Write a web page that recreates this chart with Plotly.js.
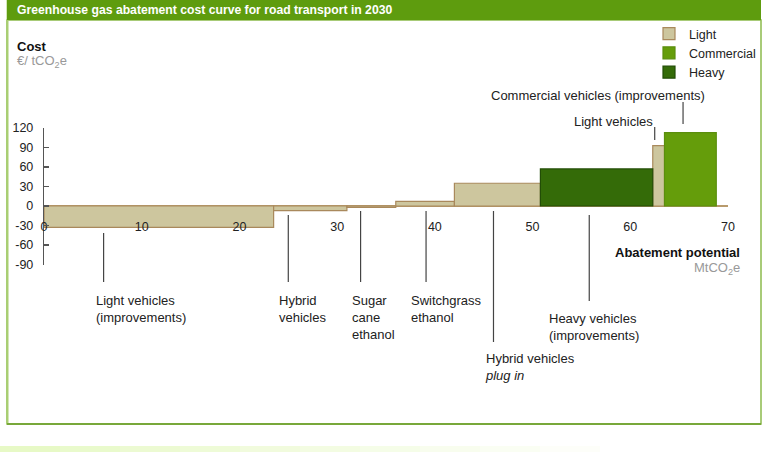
<!DOCTYPE html>
<html>
<head>
<meta charset="utf-8">
<script src="https://cdn.plot.ly/plotly-3.0.1.min.js"></script>
<style>html,body{margin:0;padding:0;background:#fff;}#chart{width:765px;height:452px;}</style>
</head>
<body>
<div id="chart"></div>
<script>
// ---- Data ----
const measures = ['Light vehicles (improvements)', 'Hybrid vehicles', 'Sugar cane ethanol', 'Switchgrass ethanol', 'Hybrid vehicles plug in', 'Heavy vehicles (improvements)', 'Light vehicles', 'Commercial vehicles (improvements)'];
const potential = [23.5, 7.5, 5, 6, 8.8, 11.5, 1.2, 5.3];   // MtCO2e
const cost = [-33, -7, -2, 7, 35, 57, 93, 113];               // EUR / tCO2e
const sector = ['Light', 'Light', 'Light', 'Light', 'Light', 'Heavy', 'Light', 'Commercial'];
const sectors = ['Light', 'Commercial', 'Heavy'];
const xTicks = [0, 10, 20, 30, 40, 50, 60, 70];
const yTicks = [-90, -60, -30, 0, 30, 60, 90, 120];

// ---- Styles ----
const W = 765, H = 452;
const px = v => v / W;
const py = v => 1 - v / H;
const FONT = 'Liberation Sans, Arial, sans-serif';
const fillColors = {Light: '#cdc69e', Commercial: '#659d0b', Heavy: '#346b08'};
const lineColors = {Light: '#a9895c', Commercial: '#5b8e0e', Heavy: '#224d06'};

// cumulative positions of the blocks
const starts = [];
let acc = 0;
potential.forEach(w => { starts.push(acc); acc += w; });

const traces = sectors.map(s => {
  const idx = sector.map((v, i) => v === s ? i : -1).filter(i => i >= 0);
  return {
    type: 'bar',
    name: s,
    x: idx.map(i => starts[i] + potential[i] / 2),
    width: idx.map(i => potential[i]),
    y: idx.map(i => cost[i]),
    text: idx.map(i => measures[i]),
    hoverinfo: 'text+y',
    textposition: 'none',
    marker: {color: fillColors[s], line: {color: lineColors[s], width: 1.2}}
  };
});

// ---- Label layout (leader x in data units, pixel y of line, text position) ----
const labels = [
  {text: 'Light vehicles<br>(improvements)', lx: 6.1, ly0: 233, ly1: 282, tx: 94, ty: 291},
  {text: 'Hybrid<br>vehicles', lx: 25.0, ly0: 215, ly1: 282, tx: 277, ty: 291},
  {text: 'Sugar<br>cane<br>ethanol', lx: 32.4, ly0: 211, ly1: 282, tx: 350, ty: 291},
  {text: 'Switchgrass<br>ethanol', lx: 39.1, ly0: 211, ly1: 282, tx: 409, ty: 291},
  {text: 'Hybrid vehicles<br><i>plug in</i>', lx: 46.0, ly0: 211, ly1: 342, tx: 483, ty: 349},
  {text: 'Heavy vehicles<br>(improvements)', lx: 55.8, ly0: 215, ly1: 301, tx: 547, ty: 309},
  {text: 'Light vehicles', lx: 62.5, ly0: 127, ly1: 140, tx: 572, ty: 112},
  {text: 'Commercial vehicles (improvements)', lx: 65.4, ly0: 102, ly1: 124, tx: 489, ty: 86}
];

const shapes = [
  // frame
  {type: 'rect', xref: 'paper', yref: 'paper', x0: px(7), x1: px(761), y0: py(20), y1: py(424), line: {color: '#8cba4c', width: 1.5}, fillcolor: 'rgba(0,0,0,0)', layer: 'below'},
  {type: 'line', xref: 'paper', yref: 'paper', x0: px(7.5), x1: px(7.5), y0: py(0), y1: py(424), line: {color: '#a9cf72', width: 2}, layer: 'below'},
  {type: 'line', xref: 'paper', yref: 'paper', x0: px(7), x1: px(761), y0: py(424), y1: py(424), line: {color: '#78a83a', width: 2}, layer: 'below'},
  // title bar
  {type: 'rect', xref: 'paper', yref: 'paper', x0: px(7), x1: px(761), y0: py(20), y1: py(-2), line: {width: 0}, fillcolor: '#5e9c0e', layer: 'below'}
];
// bottom gradient strip
for (let i = 0; i < 10; i++) {
  shapes.push({type: 'rect', xref: 'paper', yref: 'paper', x0: px(i * 60), x1: px(i * 60 + 60), y0: py(453), y1: py(446),
    line: {width: 0}, fillcolor: 'rgba(215,245,160,' + (0.6 * (1 - i / 10)).toFixed(2) + ')', layer: 'below'});
}
labels.forEach(l => {
  shapes.push({type: 'line', xref: 'x', yref: 'paper', x0: l.lx, x1: l.lx, y0: py(l.ly0), y1: py(l.ly1), line: {color: '#444', width: 1.2}});
});

const annotations = [
  {text: '<b>Greenhouse gas abatement cost curve for road transport in 2030</b>', xref: 'paper', yref: 'paper', x: px(15), y: py(9.5), xanchor: 'left', yanchor: 'middle', showarrow: false, font: {family: FONT, size: 12.2, color: '#ffffff'}},
  {text: '<b>Cost</b>', xref: 'paper', yref: 'paper', x: px(15), y: py(46), xanchor: 'left', yanchor: 'middle', showarrow: false, font: {family: FONT, size: 13, color: '#111'}},
  {text: '€/ tCO<sub>2</sub>e', xref: 'paper', yref: 'paper', x: px(15), y: py(62), xanchor: 'left', yanchor: 'middle', showarrow: false, font: {family: FONT, size: 13, color: '#999'}},
  {text: '<b>Abatement potential</b>', xref: 'paper', yref: 'paper', x: px(742), y: py(252), xanchor: 'right', yanchor: 'middle', showarrow: false, font: {family: FONT, size: 13, color: '#111'}},
  {text: 'MtCO<sub>2</sub>e', xref: 'paper', yref: 'paper', x: px(742), y: py(268), xanchor: 'right', yanchor: 'middle', showarrow: false, font: {family: FONT, size: 13, color: '#999'}}
];
labels.forEach(l => {
  annotations.push({text: l.text, xref: 'paper', yref: 'paper', x: px(l.tx), y: py(l.ty), xanchor: 'left', yanchor: 'top', align: 'left', showarrow: false, font: {family: FONT, size: 13, color: '#222'}});
});

const layout = {
  width: W, height: H,
  margin: {l: 0, r: 0, t: 0, b: 0},
  paper_bgcolor: '#ffffff', plot_bgcolor: 'rgba(0,0,0,0)',
  font: {family: FONT, size: 12, color: '#222'},
  barmode: 'overlay',
  showlegend: true,
  legend: {x: px(649), y: py(19), xanchor: 'left', yanchor: 'top', bgcolor: 'rgba(0,0,0,0)', font: {family: FONT, size: 12.5, color: '#222'}, tracegroupgap: 0},
  xaxis: {range: [0, 70], domain: [px(44), px(728)], anchor: 'free', position: py(217), tickvals: xTicks, ticktext: xTicks.map(String),
    showgrid: false, zeroline: false, showline: false, ticks: '', tickfont: {family: FONT, size: 12.5, color: '#222'}, fixedrange: true},
  yaxis: {range: [-90, 120], domain: [py(264.5), py(128)], anchor: 'x', tickvals: yTicks, ticktext: yTicks.map(String),
    showgrid: false, zeroline: true, zerolinecolor: '#b89a6c', zerolinewidth: 2,
    showline: true, linecolor: '#555', linewidth: 1.2, ticks: 'inside', ticklen: 5, tickcolor: '#555', tickwidth: 1.2,
    tickfont: {family: FONT, size: 12.5, color: '#222'}, ticklabelstandoff: 7, fixedrange: true},
  shapes: shapes,
  annotations: annotations
};

Plotly.newPlot('chart', traces, layout, {displayModeBar: false, staticPlot: true});
</script>
</body>
</html>
